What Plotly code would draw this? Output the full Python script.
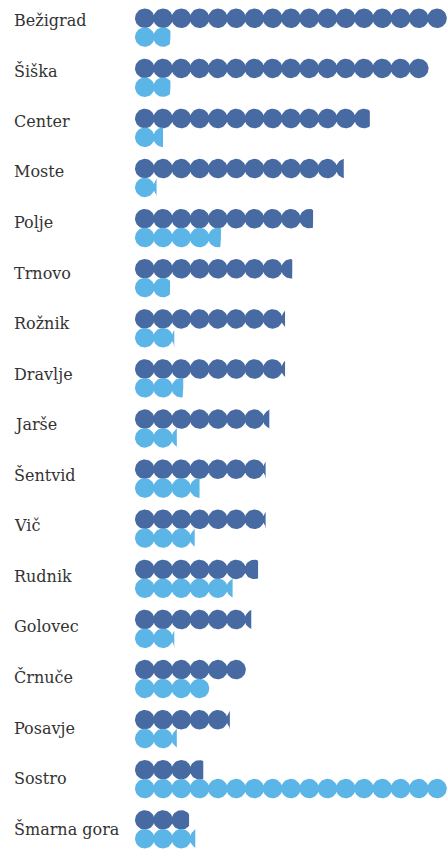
import math
import plotly.graph_objects as go

# ---- data ----
districts = ["Bežigrad", "Šiška", "Center", "Moste", "Polje", "Trnovo", "Rožnik",
             "Dravlje", "Jarše", "Šentvid", "Vič", "Rudnik", "Golovec", "Črnuče",
             "Posavje", "Sostro", "Šmarna gora"]
dark_values = [17.0, 16.0, 12.8, 11.4, 9.7, 8.57, 8.2, 8.2, 7.33, 7.14, 7.14,
               6.69, 6.34, 6.0, 5.18, 3.69, 2.9]
light_values = [1.88, 1.88, 1.5, 1.17, 4.66, 1.86, 2.14, 2.6, 2.27, 3.5, 3.25,
                5.32, 2.14, 4.0, 2.27, 17.0, 3.28]

DARK = "#486aa2"
LIGHT = "#5bb5e6"

# ---- layout geometry (pixels) ----
W, H = 447, 849
X0 = 135.0      # left edge of first circle
STEP = 18.27    # circle step
DIAM = 19.5     # circle diameter
GS = 50.1       # group spacing (circles)
LGS = 50.55     # group spacing (labels)
Y0 = 18.3       # first dark row centre
LO = 18.8       # light row offset

rx = DIAM / 2 / STEP   # radius in x units
ry = DIAM / 2 / GS     # radius in y units
dw = DIAM / STEP       # diameter in x units
loff = LO / GS


def row_path(value, yc):
    xs, ys = [], []
    full = int(math.floor(value + 1e-9))
    frac = value - full
    n = 48
    items = [(k, None) for k in range(full)]
    if frac > 0.02:
        items.append((full, full + frac * dw))
    for k, clip in items:
        cx = k + rx
        for j in range(n + 1):
            t = 2 * math.pi * j / n
            x = cx + rx * math.cos(t)
            if clip is not None:
                x = min(x, clip)
            xs.append(x)
            ys.append(yc + ry * math.sin(t))
        xs.append(None)
        ys.append(None)
    return xs, ys


fig = go.Figure()
dx, dy, lx, ly = [], [], [], []
for i, (dv, lv) in enumerate(zip(dark_values, light_values)):
    a, b = row_path(dv, i)
    dx += a; dy += b
    a, b = row_path(lv, i + loff)
    lx += a; ly += b

fig.add_trace(go.Scatter(x=dx, y=dy, mode="lines", fill="toself", fillcolor=DARK,
                         line=dict(width=0, color=DARK), hoverinfo="skip",
                         showlegend=False))
fig.add_trace(go.Scatter(x=lx, y=ly, mode="lines", fill="toself", fillcolor=LIGHT,
                         line=dict(width=0, color=LIGHT), hoverinfo="skip",
                         showlegend=False))

for i, name in enumerate(districts):
    fig.add_annotation(x=12 / W, xref="paper", y=i * LGS / GS, yref="y", text=name,
                       xanchor="left", yanchor="middle", showarrow=False,
                       yshift=-2,
                       font=dict(family="DejaVu Serif", size=16, color="#333333"))

fig.update_layout(
    width=W, height=H,
    margin=dict(l=0, r=0, t=0, b=0),
    paper_bgcolor="white", plot_bgcolor="white",
    xaxis=dict(visible=False, range=[-X0 / STEP, (W - X0) / STEP], fixedrange=True),
    yaxis=dict(visible=False, range=[(H - Y0) / GS, -Y0 / GS], fixedrange=True),
)

fig.write_html(
    "out.html",
    config={"displayModeBar": False},
    post_script="document.body.style.margin='0';document.body.style.overflow='hidden';",
)
